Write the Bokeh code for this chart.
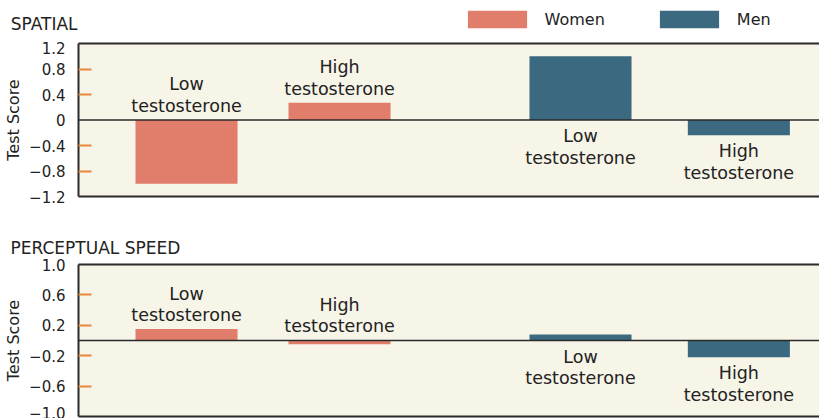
from bokeh.plotting import figure
from bokeh.models import (Range1d, FixedTicker, CustomJSTickFormatter, LinearAxis,
                          Span, Legend, LegendItem, ColumnDataSource)
from bokeh.layouts import column
from bokeh.embed import file_html
from bokeh.resources import INLINE
from bokeh.core.properties import value

# ---- data ----
groups = ["Women", "Women", "Men", "Men"]
levels = ["Low\ntestosterone", "High\ntestosterone", "Low\ntestosterone", "High\ntestosterone"]
x_pos = [1.0, 2.0, 3.575, 4.61]
spatial = [-1.0, 0.27, 1.0, -0.24]
perceptual = [0.15, -0.05, 0.08, -0.22]
spatial_labels = [1.2, 0.8, 0.4, 0, -0.4, -0.8, -1.2]
spatial_marks = [0.8, 0.4, -0.4, -0.8]
perc_labels = [1.0, 0.6, 0.2, -0.2, -0.6, -1.0]
perc_marks = [0.6, 0.2, -0.2, -0.6]
series = ["Women", "Men"]
colors = {"Women": "#E07E6B", "Men": "#3B6A80"}
titles = ["SPATIAL", "PERCEPTUAL SPEED"]

FONT = "DejaVu Sans"
TXT = "#222222"
CREAM = "#F7F4E8"
ORANGE = "#E8873A"
BORDER = "#2a2a2a"
W = 819
XR = (0.294, 5.137)

fmt = CustomJSTickFormatter(code="""
if (Math.abs(tick) < 1e-9) return "0";
return (tick < 0 ? "\u2212" : "") + Math.abs(tick).toFixed(1);
""")


def series_source(g, values):
    idx = [i for i, gg in enumerate(groups) if gg == g]
    return ColumnDataSource(dict(x=[x_pos[i] for i in idx], top=[values[i] for i in idx]))


# ---- header: first panel title (as a left-axis label) and legend ----
hdr = figure(width=W, height=41, output_backend="svg", toolbar_location=None,
             x_range=Range1d(*XR), y_range=Range1d(0, 41),
             min_border_left=0, min_border_right=0, min_border_top=0, min_border_bottom=0,
             x_axis_location=None)
hdr.outline_line_color = None
hdr.grid.visible = False
hdr.background_fill_color = "white"
hdr.border_fill_color = "white"
hax = hdr.yaxis[0]
hax.ticker = FixedTicker(ticks=[17.5])
hax.formatter = CustomJSTickFormatter(args=dict(t=titles[0]), code="return t")
hax.axis_line_color = None
hax.major_tick_in = 0
hax.major_tick_out = 0
hax.minor_tick_in = 0
hax.minor_tick_out = 0
hax.major_label_standoff = 1
hax.major_label_text_font = FONT
hax.major_label_text_font_size = "17px"
hax.major_label_text_color = TXT

dummies = {}
for g in series:
    dummies[g] = hdr.vbar(x="x", top="top", width=0.5, source=series_source(g, spatial),
                          fill_color=colors[g], line_color=None, visible=False)
lg = Legend(items=[LegendItem(label=g, renderers=[dummies[g]]) for g in series],
            orientation="horizontal", location=(381.6, 10.75),
            glyph_width=74, glyph_height=22, label_standoff=11, spacing=47,
            padding=0, margin=0, border_line_color=None, background_fill_alpha=0,
            inactive_fill_alpha=0,
            label_text_font=FONT, label_text_font_size="16px", label_text_color=TXT,
            label_height=22)
hdr.add_layout(lg, "center")


def make_panel(title, values, label_ticks, mark_ticks, height, btop, bbottom):
    p = figure(width=W, height=height, output_backend="svg", toolbar_location=None,
               x_range=Range1d(*XR),
               y_range=Range1d(min(label_ticks), max(label_ticks)),
               min_border_left=78, min_border_right=0,
               min_border_top=btop, min_border_bottom=bbottom,
               x_axis_location=None)
    p.outline_line_color = None
    p.background_fill_color = CREAM
    p.border_fill_color = "white"
    p.grid.visible = False

    if title:
        p.title.text = title
        p.title.align = "left"
        p.title.offset = -68
        p.title.text_font = FONT
        p.title.text_font_size = "17px"
        p.title.text_font_style = "normal"
        p.title.text_color = TXT
        p.title.standoff = 13

    ax = p.yaxis[0]
    ax.ticker = FixedTicker(ticks=label_ticks, minor_ticks=mark_ticks)
    ax.formatter = fmt
    ax.axis_line_color = BORDER
    ax.axis_line_width = 2
    ax.major_tick_in = 0
    ax.major_tick_out = 0
    ax.minor_tick_in = 13
    ax.minor_tick_out = 0
    ax.minor_tick_line_color = ORANGE
    ax.minor_tick_line_width = 2
    ax.major_label_standoff = 13
    ax.major_label_text_font = FONT
    ax.major_label_text_font_size = "15px"
    ax.major_label_text_color = TXT
    ax.axis_label = "Test Score"
    ax.axis_label_text_font = FONT
    ax.axis_label_text_font_size = "16px"
    ax.axis_label_text_font_style = "normal"
    ax.axis_label_text_color = TXT
    ax.axis_label_standoff = 3

    for loc in ("above", "below"):
        a = LinearAxis(ticker=FixedTicker(ticks=[]), axis_line_color=BORDER, axis_line_width=2,
                       major_tick_out=0, major_tick_in=0, minor_tick_out=0, minor_tick_in=0,
                       major_label_standoff=0, major_label_text_font_size="0px")
        p.add_layout(a, loc)

    for g in series:
        p.vbar(x="x", top="top", bottom=0, width=0.667, source=series_source(g, values),
               fill_color=colors[g], line_color=None)

    p.add_layout(Span(location=0, dimension="width", line_color=BORDER, line_width=1.5))

    # labels: women above, men below
    for g, above in (("Women", True), ("Men", False)):
        idx = [i for i, gg in enumerate(groups) if gg == g]
        ys = [max(values[i], 0) if above else min(values[i], 0) for i in idx]
        src = ColumnDataSource(dict(x=[x_pos[i] for i in idx], y=ys, t=[levels[i] for i in idx]))
        p.text(x="x", y="y", text="t", source=src, text_align="center",
               text_baseline="bottom" if above else "top",
               y_offset=-4 if above else 6,
               text_font=value(FONT), text_font_size="17.5px", text_color=TXT,
               text_line_height=1.08)
    return p


p1 = make_panel(None, spatial, spatial_labels, spatial_marks, 181, 2, 26)
p2 = make_panel(titles[1], perceptual, perc_labels, perc_marks, 196, 42, 2)

layout = column(hdr, p1, p2, spacing=0)
open("out.html", "w").write(file_html(layout, INLINE))
